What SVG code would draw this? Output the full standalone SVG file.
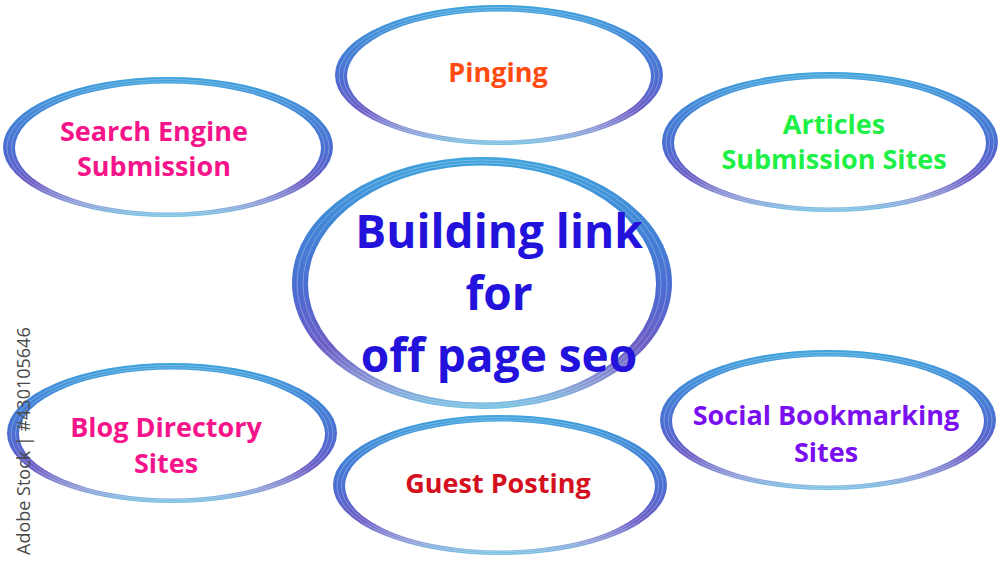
<svg xmlns="http://www.w3.org/2000/svg" width="1000" height="563" viewBox="0 0 1000 563">
<style>
.lbl{font-family:"Open Sans","Liberation Sans",sans-serif;font-weight:700;text-anchor:middle}
.s{font-size:27px}
.big{font-size:46px;fill:#2212dc}
.ring{fill-rule:evenodd;fill:url(#rg)}
.ridge{fill:none;stroke:#ffffff;stroke-opacity:0.28;stroke-width:1}
.wm{font-family:"Open Sans","Liberation Sans",sans-serif;font-size:18px;fill:#4a4a4a}
</style>
<defs>
<linearGradient id="rg" x1="0" y1="0" x2="0" y2="1">
<stop offset="0" stop-color="#40a4dc"/>
<stop offset="0.3" stop-color="#4282d6"/>
<stop offset="0.55" stop-color="#4d6ad0"/>
<stop offset="0.75" stop-color="#6d5ec6"/>
<stop offset="0.9" stop-color="#8a9ad6"/>
<stop offset="1" stop-color="#72c2e2"/>
</linearGradient>
</defs>
<rect width="1000" height="563" fill="#ffffff"/>

<g id="node-pinging">
<path class="ring" d="M335,75 a164,70 0 1,0 328,0 a164,70 0 1,0 -328,0 Z M347,76 a152,64.5 0 1,0 304,0 a152,64.5 0 1,0 -304,0 Z"/>
<ellipse class="ridge" cx="499" cy="75.5" rx="160" ry="68"/>
<ellipse class="ridge" cx="499" cy="75.8" rx="155.5" ry="66"/>
<text class="lbl s" x="498" y="82" fill="#ff4a10">Pinging</text>
</g>

<g id="node-search">
<path class="ring" d="M3,147 a165,70 0 1,0 330,0 a165,70 0 1,0 -330,0 Z M15,148 a153,64.5 0 1,0 306,0 a153,64.5 0 1,0 -306,0 Z"/>
<ellipse class="ridge" cx="168" cy="147.5" rx="161" ry="68"/>
<ellipse class="ridge" cx="168" cy="147.8" rx="156.5" ry="66"/>
<text class="lbl s" fill="#f5148a"><tspan x="154" y="141">Search Engine</tspan><tspan x="154" y="176">Submission</tspan></text>
</g>

<g id="node-articles">
<path class="ring" d="M662,142 a168,70 0 1,0 336,0 a168,70 0 1,0 -336,0 Z M674,143 a156,64.5 0 1,0 312,0 a156,64.5 0 1,0 -312,0 Z"/>
<ellipse class="ridge" cx="830" cy="142.5" rx="164" ry="68"/>
<ellipse class="ridge" cx="830" cy="142.8" rx="159.5" ry="66"/>
<text class="lbl s" fill="#1ef046"><tspan x="834" y="134">Articles</tspan><tspan x="834" y="169">Submission Sites</tspan></text>
</g>

<g id="node-center">
<path class="ring" d="M292,283 a190,126 0 1,0 380,0 a190,126 0 1,0 -380,0 Z M308,284 a174,118.5 0 1,0 348,0 a174,118.5 0 1,0 -348,0 Z"/>
<ellipse class="ridge" cx="482" cy="283.5" rx="185" ry="123.5"/>
<ellipse class="ridge" cx="482" cy="283.8" rx="179" ry="121"/>
<text class="lbl big"><tspan x="499" y="248">Building link</tspan><tspan x="499" y="310">for</tspan><tspan x="499" y="372">off page seo</tspan></text>
</g>

<g id="node-blog">
<path class="ring" d="M7,433 a165,70 0 1,0 330,0 a165,70 0 1,0 -330,0 Z M19,434 a153,64.5 0 1,0 306,0 a153,64.5 0 1,0 -306,0 Z"/>
<ellipse class="ridge" cx="172" cy="433.5" rx="161" ry="68"/>
<ellipse class="ridge" cx="172" cy="433.8" rx="156.5" ry="66"/>
<text class="lbl s" fill="#f5148a"><tspan x="166" y="437">Blog Directory</tspan><tspan x="166" y="473">Sites</tspan></text>
</g>

<g id="node-guest">
<path class="ring" d="M333,485 a167,70 0 1,0 334,0 a167,70 0 1,0 -334,0 Z M345,486 a155,64.5 0 1,0 310,0 a155,64.5 0 1,0 -310,0 Z"/>
<ellipse class="ridge" cx="500" cy="485.5" rx="163" ry="68"/>
<ellipse class="ridge" cx="500" cy="485.8" rx="158.5" ry="66"/>
<text class="lbl s" x="498" y="493" fill="#d4101e">Guest Posting</text>
</g>

<g id="node-social">
<path class="ring" d="M660,420 a168,70 0 1,0 336,0 a168,70 0 1,0 -336,0 Z M672,421 a156,64.5 0 1,0 312,0 a156,64.5 0 1,0 -312,0 Z"/>
<ellipse class="ridge" cx="828" cy="420.5" rx="164" ry="68"/>
<ellipse class="ridge" cx="828" cy="420.8" rx="159.5" ry="66"/>
<text class="lbl s" fill="#7a10f0"><tspan x="826" y="425">Social Bookmarking</tspan><tspan x="826" y="462">Sites</tspan></text>
</g>

<g id="connectors"></g>

<text class="wm" transform="translate(30,555) rotate(-90)">Adobe Stock | #430105646</text>
</svg>
